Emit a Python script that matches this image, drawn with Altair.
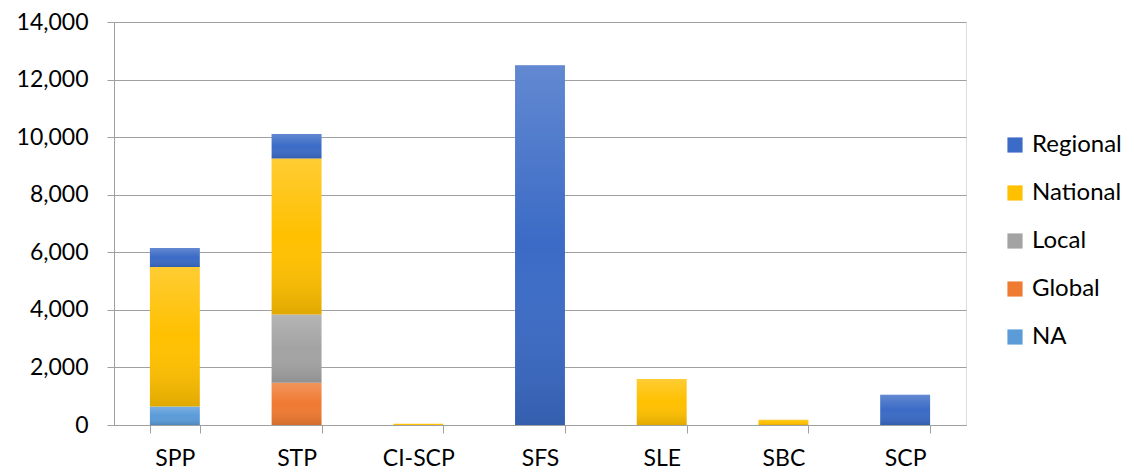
import altair as alt
import pandas as pd

categories = ["SPP", "STP", "CI-SCP", "SFS", "SLE", "SBC", "SCP"]
series = ["NA", "Global", "Local", "National", "Regional"]  # bottom to top
na_vals = [640, 0, 0, 0, 0, 0, 0]
global_vals = [0, 1470, 0, 0, 0, 0, 0]
local_vals = [0, 2370, 0, 0, 0, 0, 0]
national_vals = [4850, 5420, 40, 0, 1600, 180, 0]
regional_vals = [660, 850, 0, 12500, 0, 0, 1050]

legend_order = ["Regional", "National", "Local", "Global", "NA"]
colors = ["#3B6BC6", "#FFC000", "#A3A3A3", "#EF7A32", "#5A9BD8"]

values = {
    "NA": na_vals,
    "Global": global_vals,
    "Local": local_vals,
    "National": national_vals,
    "Regional": regional_vals,
}
rows = []
for si, s in enumerate(series):
    for c, v in zip(categories, values[s]):
        rows.append({"cat": c, "series": s, "value": v, "ord": si})
df = pd.DataFrame(rows)

FONT = "Lato"
GRAY = "#A0A0A0"

x = alt.X("cat:N", sort=categories, title=None,
          scale=alt.Scale(paddingInner=0.59, paddingOuter=0.295),
          axis=alt.Axis(labelAngle=0, tickBand="extent", tickSize=8,
                        labelPadding=14, labelFontSize=23, labelColor="#000000",
                        domainColor=GRAY, tickColor=GRAY, grid=False))
y = alt.Y("value:Q", stack="zero", title=None,
          scale=alt.Scale(domain=[0, 14000], nice=False),
          axis=alt.Axis(values=list(range(0, 14001, 2000)), format=",.0f",
                        tickSize=7, labelPadding=19, labelFontSize=23,
                        labelColor="#000000", domainColor=GRAY,
                        tickColor=GRAY, gridColor=GRAY))

base = alt.Chart(df)

bars = base.mark_bar().encode(
    x=x, y=y,
    color=alt.Color("series:N",
                    scale=alt.Scale(domain=legend_order, range=colors),
                    legend=alt.Legend(title=None, orient="none", legendX=889, legendY=111,
                                      symbolType="square", symbolSize=230,
                                      symbolStrokeWidth=0, labelFontSize=24,
                                      labelColor="#000000", labelOffset=5,
                                      rowPadding=24, padding=0)),
    order=alt.Order("ord:Q", sort="ascending"),
)

shade = base.mark_bar(
    color=alt.Gradient(
        gradient="linear", x1=0, y1=0, x2=0, y2=1,
        stops=[
            alt.GradientStop(offset=0, color="rgba(255,255,255,0.2)"),
            alt.GradientStop(offset=0.5, color="rgba(255,255,255,0)"),
            alt.GradientStop(offset=1, color="rgba(0,0,0,0.12)"),
        ],
    )
).encode(
    x=x, y=y,
    order=alt.Order("ord:Q", sort="ascending"),
    detail="series:N",
)

chart = (bars + shade).properties(
    width=852, height=403,
    autosize=alt.AutoSizeParams(type="none"),
    padding={"left": 106, "top": 14, "right": 160, "bottom": 47},
).configure_view(stroke=None).configure(font=FONT)

chart.save("out.html", embed_options={"renderer": "svg", "actions": False})
